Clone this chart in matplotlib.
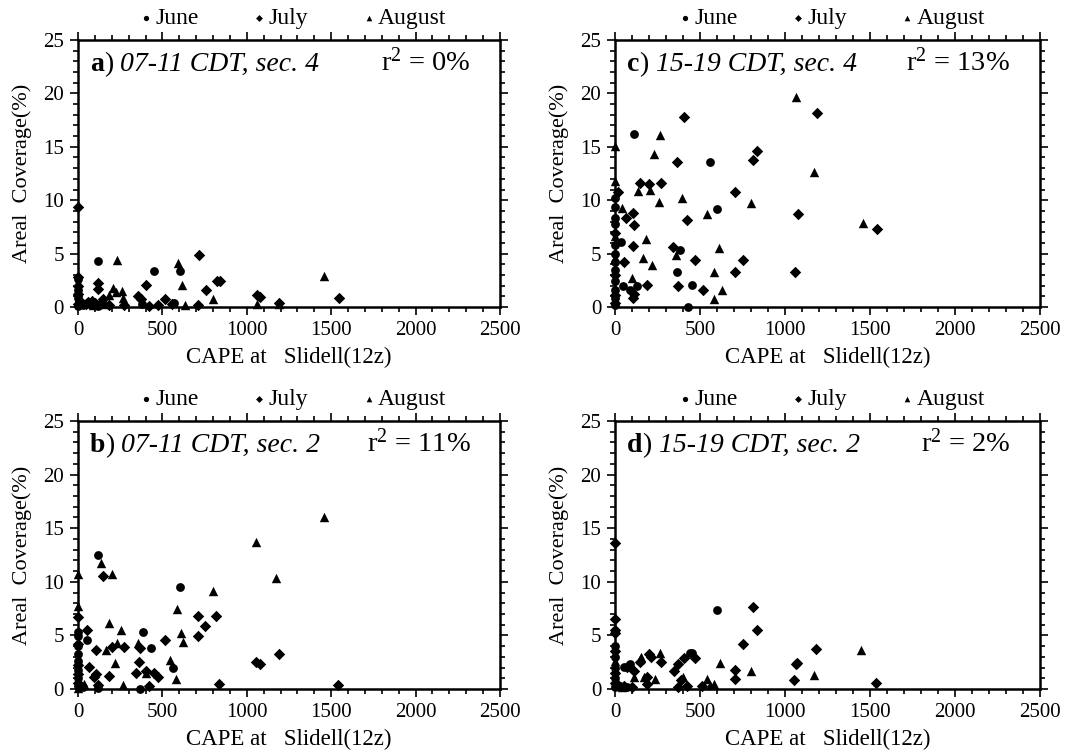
import numpy as np
import matplotlib.pyplot as plt
from matplotlib.ticker import MultipleLocator

plt.rcParams['font.family'] = ['Liberation Serif', 'DejaVu Serif']
plt.rcParams['mathtext.fontset'] = 'custom'
plt.rcParams['mathtext.rm'] = 'Liberation Serif'
plt.rcParams['mathtext.it'] = 'Liberation Serif:italic'

# panel a) 07-11 CDT, sec. 4
a_jun_x = [0, 0, 0, 0, 30, 70, 117, 381, 453, 566, 607, 120]
a_jun_y = [0.1, 0.8, 1.6, 2.6, 0.2, 0.4, 4.3, 0.25, 3.4, 0.4, 3.4, 0.1]
a_jul_x = [0, 0, 0, 0, 0, 20, 45, 60, 85, 100, 117, 117, 146, 185, 273, 355, 371, 404, 420,
           475, 518, 557, 713, 717, 758, 826, 840, 1060, 1080, 1190, 1549, 10, 130]
a_jul_y = [9.4, 0.3, 1.2, 2.0, 2.8, 0.4, 0.3, 0.5, 0.6, 0.4, 2.2, 1.7, 0.7, 0.2, 0.2, 1.0, 0.7, 2.1, 0.1,
           0.2, 0.7, 0.3, 0.2, 4.85, 1.6, 2.4, 2.4, 1.15, 0.95, 0.4, 0.8, 0.6, 0.3]
a_aug_x = [0, 0, 0, 185, 205, 225, 234, 260, 264, 590, 619, 631, 800, 1060, 1190, 1460, 160, 90]
a_aug_y = [0.5, 1.4, 2.3, 1.1, 1.8, 1.4, 4.4, 1.5, 0.85, 4.1, 2.1, 0.2, 0.75, 0.3, 0.25, 2.9, 0.3, 0.2]

# panel b) 07-11 CDT, sec. 2
b_jun_x = [117, 603, 383, 53, 434, 560, 366, 0, 0, 0, 0, 0, 0, 0, 0, 117, 30]
b_jun_y = [12.5, 9.5, 5.3, 4.6, 3.8, 2.0, 0.0, 5.3, 4.9, 4.0, 3.3, 2.6, 1.8, 1.0, 0.3, 0.05, 0.2]
b_jul_x = [146, 0, 710, 817, 753, 53, 516, 710, 272, 200, 107, 370, 360, 1057, 1076, 1193, 68, 185,
           344, 403, 453, 473, 97, 107, 419, 837, 1543, 117, 0, 0, 0, 0]
b_jul_y = [10.5, 6.7, 6.8, 6.8, 5.9, 5.5, 4.6, 4.9, 3.9, 3.9, 3.6, 3.8, 2.5, 2.5, 2.3, 3.3, 2.1, 1.25,
           1.45, 1.7, 1.45, 1.1, 1.15, 1.4, 0.3, 0.45, 0.35, 0.4, 4.2, 2.2, 1.4, 0.6]
b_aug_x = [1057, 1455, 136, 204, 0, 1173, 798, 0, 584, 185, 257, 613, 624, 233, 354, 165, 218, 545,
           405, 578, 267, 33, 0]
b_aug_y = [13.7, 16.0, 11.8, 10.7, 10.7, 10.4, 9.1, 7.7, 7.5, 6.2, 5.5, 5.2, 4.4, 4.3, 4.3, 3.6, 2.45, 2.7,
           1.5, 0.9, 0.35, 0.5, 0.1]

# panel c) 15-19 CDT, sec. 4
c_jun_x = [113, 560, 0, 599, 0, 0, 0, 33, 383, 0, 0, 0, 366, 49, 127, 88, 450, 432, 0, 0, 0, 0, 0]
c_jun_y = [16.2, 13.6, 10.2, 9.2, 9.4, 8.3, 7.8, 6.1, 5.3, 5.0, 4.2, 3.5, 3.3, 2.0, 2.0, 1.55, 2.1, 0.0,
           2.4, 1.6, 0.8, 0.2, 5.8]
c_jul_x = [403, 1189, 837, 813, 366, 146, 198, 268, 19, 706, 107, 1074, 64, 422, 113, 1543, 107, 344,
           53, 471, 753, 706, 1057, 187, 370, 516, 113, 103, 0, 0, 0, 0]
c_jul_y = [17.8, 18.2, 14.6, 13.8, 13.6, 11.6, 11.5, 11.6, 10.8, 10.8, 8.8, 8.7, 8.3, 8.1, 7.7, 7.3, 5.7, 5.6,
           4.2, 4.4, 4.4, 3.3, 3.3, 2.1, 2.0, 1.6, 1.2, 0.8, 6.9, 3.0, 1.1, 0.4]
c_aug_x = [1062, 0, 263, 230, 1173, 0, 136, 204, 395, 259, 798, 39, 541, 1456, 185, 356, 613, 165, 220,
           580, 97, 627, 584, 0, 0]
c_aug_y = [19.7, 15.1, 16.1, 14.3, 12.6, 11.8, 10.9, 11.0, 10.2, 9.8, 9.7, 9.3, 8.7, 7.9, 6.4, 4.9, 5.5, 4.6, 3.9,
           3.3, 2.7, 1.6, 0.7, 6.6, 4.6]

# panel d) 15-19 CDT, sec. 2
d_jun_x = [600, 440, 453, 89, 54, 0, 0, 0, 0, 0, 30, 70]
d_jun_y = [7.4, 3.4, 3.4, 2.35, 2.1, 4.0, 3.0, 2.0, 1.0, 0.2, 0.3, 0.2]
d_jul_x = [0, 0, 0, 0, 813, 836, 753, 1185, 1063, 1073, 706, 706, 1054, 1536, 199, 212, 272, 145, 473,
           405, 369, 347, 69, 112, 189, 189, 388, 369, 425, 513, 0, 0, 0, 20, 50, 100]
d_jul_y = [13.6, 6.5, 5.5, 5.2, 7.65, 5.5, 4.2, 3.7, 2.35, 2.45, 1.8, 0.95, 0.8, 0.6, 3.3, 3.0, 2.5, 2.5, 2.9,
           2.9, 2.35, 1.7, 2.1, 1.7, 0.5, 1.1, 0.8, 0.15, 0.25, 0.25, 3.5, 1.5, 0.6, 0.4, 0.3, 0.2]
d_aug_x = [1448, 618, 797, 1170, 262, 150, 145, 112, 170, 234, 398, 542, 585, 556, 0, 0, 40]
d_aug_y = [3.6, 2.4, 1.7, 1.3, 3.4, 3.0, 2.8, 1.1, 1.1, 0.9, 1.1, 0.9, 0.45, 0.4, 2.6, 0.8, 0.2]

panels = [
    ('a', '07-11 CDT, sec. 4', '0%', [0.0731, 0.594, 0.3955, 0.353],
     (a_jun_x, a_jun_y), (a_jul_x, a_jul_y), (a_aug_x, a_aug_y)),
    ('b', '07-11 CDT, sec. 2', '11%', [0.0731, 0.0886, 0.3955, 0.3545],
     (b_jun_x, b_jun_y), (b_jul_x, b_jul_y), (b_aug_x, b_aug_y)),
    ('c', '15-19 CDT, sec. 4', '13%', [0.5764, 0.594, 0.3983, 0.353],
     (c_jun_x, c_jun_y), (c_jul_x, c_jul_y), (c_aug_x, c_aug_y)),
    ('d', '15-19 CDT, sec. 2', '2%', [0.5764, 0.0886, 0.3983, 0.3545],
     (d_jun_x, d_jun_y), (d_jul_x, d_jul_y), (d_aug_x, d_aug_y)),
]

fig = plt.figure(figsize=(10.67, 7.56), dpi=100)

for letter, desc, r2, pos, jun, jul, aug in panels:
    ax = fig.add_axes(pos)
    ax.scatter(jun[0], jun[1], marker='o', s=40, c='black', linewidths=0, clip_on=False, zorder=3, label='June')
    ax.scatter(jul[0], jul[1], marker='D', s=34, c='black', linewidths=0, clip_on=False, zorder=3, label='July')
    ax.scatter(aug[0], aug[1], marker='^', s=46, c='black', linewidths=0, clip_on=False, zorder=3, label='August')
    ax.set_xlim(0, 2500)
    ax.set_ylim(0, 25)
    ax.xaxis.set_major_locator(MultipleLocator(500))
    ax.xaxis.set_minor_locator(MultipleLocator(100))
    ax.yaxis.set_major_locator(MultipleLocator(5))
    ax.yaxis.set_minor_locator(MultipleLocator(1))
    ax.tick_params(which='both', direction='out', top=True, right=True, width=1.2, labelsize=15, pad=4)
    ax.tick_params(which='major', length=6)
    ax.tick_params(which='minor', length=3.5)
    for sp in ax.spines.values():
        sp.set_linewidth(1.8)
    ax.set_xlabel('CAPE at   Slidell(12z)', fontsize=16.5, labelpad=5)
    ax.set_ylabel('Areal  Coverage(%)', fontsize=16, labelpad=8)

    # panel title: bold letter, regular bracket, italic description
    t1 = ax.text(0.028, 0.885, letter, transform=ax.transAxes, fontsize=20, fontweight='bold', va='baseline')
    t2 = ax.annotate(')', xy=(1, 0), xycoords=t1, fontsize=20, va='bottom')
    ax.annotate(' ' + desc, xy=(1, 0), xycoords=t2, fontsize=20, style='italic', va='bottom')
    ax.text(0.93, 0.885, 'r$^2$ = ' + r2, transform=ax.transAxes, fontsize=20.5, ha='right', va='baseline')

    ax.legend(loc='center', bbox_to_anchor=(0.512, 1.08), ncol=3, frameon=False, fontsize=17,
              markerscale=0.6, handletextpad=0.2, columnspacing=2.35, handlelength=0.4, borderpad=0)

fig.savefig('out.png', dpi=100)
